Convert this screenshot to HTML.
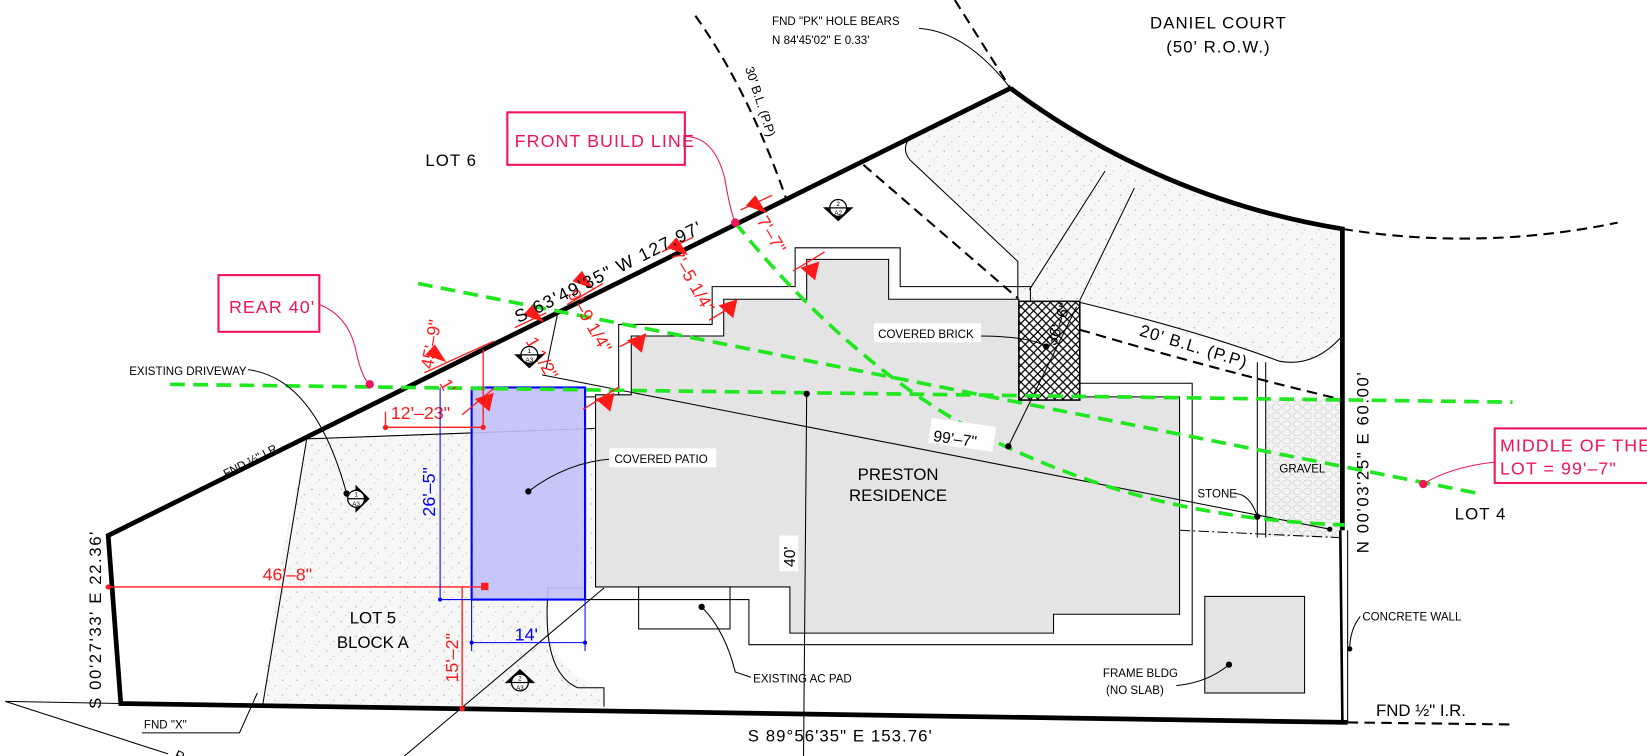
<!DOCTYPE html>
<html><head><meta charset="utf-8"><style>
html,body{margin:0;padding:0;background:#fff;}
svg{display:block}
text{font-family:"Liberation Sans Narrow","Liberation Sans",sans-serif;}
</style></head><body>
<svg width="1647" height="756" viewBox="0 0 1568 720" preserveAspectRatio="none" xmlns="http://www.w3.org/2000/svg">
<defs>
<pattern id="st" width="14" height="14" patternUnits="userSpaceOnUse">
<rect width="14" height="14" fill="#f7f7f7"/>
<circle cx="3" cy="4" r="0.8" fill="#bbb"/><circle cx="10" cy="9" r="0.7" fill="#c4c4c4"/><circle cx="7" cy="12" r="0.6" fill="#ccc"/>
</pattern>
<pattern id="hx" width="8" height="8" patternUnits="userSpaceOnUse">
<rect width="8" height="8" fill="#fff"/><path d="M0,0L8,8M8,0L0,8" stroke="#000" stroke-width="1.2"/>
</pattern>
<pattern id="gv" width="10" height="8" patternUnits="userSpaceOnUse">
<rect width="10" height="8" fill="#f4f4f4"/><ellipse cx="5" cy="4" rx="4" ry="3" fill="none" stroke="#ccc" stroke-width="0.7"/>
</pattern>
</defs>

<!-- stippled areas -->
<path d="M962,84 A719,719 0 0 0 1278,218 L1278,322 Q1276,345 1218,344 L1028,288 L969,286 L969,249 L866,152 Q860,138 866,131 Z" fill="url(#st)"/>
<path d="M292,418 L568,408 L568,560 L522,560 Q515,640 575,655 L575,673 L250,672 Q262,560 270,520 Z" fill="url(#st)"/>
<rect x="1205" y="380" width="71" height="131" fill="url(#gv)"/>

<!-- driveway outlines -->
<g fill="none" stroke="#000" stroke-width="1">
<path d="M866,131 Q858,142 866,152 L969,249 L969,286"/>
<path d="M1052,163 L980,276 M1080,179 L1028,286"/>
<path d="M1028,288 Q1140,315 1218,344 Q1250,350 1276,322"/>
<path d="M292,418 L568,408"/>
<path d="M292,418 Q268,560 250,672"/>
<path d="M557,560 L522,560 Q515,640 550,655 L575,655 L575,673"/>
<path d="M1197,345 L1197,512 M1205,345 L1205,512"/>
</g>
<path d="M1123,505 L1275,512" stroke="#000" stroke-width="1" stroke-dasharray="10,3,2,3" fill="none"/>

<!-- house outer outline -->
<path d="M557,378 L589,378 L589,309 L678,309 L678,273 L757,273 L757,236 L857,236 L857,273 L981,273 L981,287 M1028,365 L1135,365 L1135,614 L713,614 L713,571 L557,571" fill="none" stroke="#000" stroke-width="1"/>
<!-- house gray -->
<path d="M567,559 L567,376 L601,376 L601,320 L689,320 L689,285 L768,285 L768,247 L846,247 L846,285 L970,285 L970,378 L1123,378 L1123,585 L1003,585 L1003,603 L752,603 L752,559 Z" fill="#e4e4e4" stroke="#000" stroke-width="1"/>
<!-- brick hatch -->
<rect x="970" y="287" width="58" height="94" fill="url(#hx)" stroke="#000" stroke-width="1.5"/>
<!-- AC pad -->
<rect x="608" y="559" width="87" height="40" fill="none" stroke="#000" stroke-width="1"/>
<!-- frame bldg -->
<rect x="1147" y="568" width="95" height="92" fill="#e4e4e4" stroke="#000" stroke-width="1"/>
<!-- patio -->
<rect x="449" y="369" width="108" height="202" fill="#c0c0f8" fill-opacity="0.9" stroke="#0000ff" stroke-width="2"/>

<!-- thin lines -->
<g stroke="#000" stroke-width="1" fill="none">
<path d="M516,357 L1266,504"/>
<path d="M531,298 L520,351"/>
<path d="M768,375 L765,720"/>
<path d="M575,560 L385,720"/>
<path d="M5,668 L115,670 M5,668 L160,718"/>
<path d="M960,425 L1025,292"/>
<path d="M1283,688 L1283,505"/>
</g>

<!-- dashed black -->
<g stroke="#000" stroke-width="2" fill="none" stroke-dasharray="10,6">
<path d="M662,15 Q712,85 748,188"/>
<path d="M909,0 L962,84"/>
<path d="M822,157 L969,284"/>
<path d="M1028,314 Q1150,350 1275,380"/>
<path d="M1278,218 A719,719 0 0 0 1540,212"/>
<path d="M1283,688 L1440,690"/>
</g>

<!-- property boundary -->
<g stroke="#000" stroke-width="4.5" fill="none" stroke-linejoin="miter">
<path d="M962,84 L103,510 L115,670 L1283,688"/>
<path d="M962,84 A719,719 0 0 0 1278,218 L1278,505"/>
<path d="M1276,505 L1278,688" stroke-width="2.5"/>
</g>

<!-- green dashed -->
<g stroke="#22e622" stroke-width="3.5" fill="none" stroke-dasharray="14,8">
<path d="M162,366 L1440,383"/>
<path d="M398,270 L1408,470"/>
<path d="M700,212 C770,300 860,380 957,425 S1150,495 1280,500"/>
</g>

<!-- red callouts -->
<g fill="none" stroke="#f0145a" stroke-width="2">
<rect x="483" y="107" width="169" height="50"/>
<rect x="208" y="262" width="96" height="54"/>
<rect x="1423" y="408" width="150" height="52"/>
</g>
<g fill="none" stroke="#f0145a" stroke-width="1">
<path d="M652,130 Q680,130 690,170 Q695,200 700,212"/>
<path d="M304,290 Q330,300 338,330 Q344,360 352,366"/>
<path d="M1423,440 Q1380,445 1355,461"/>
</g>
<g fill="#f0145a"><circle cx="700" cy="212" r="4"/><circle cx="352" cy="366" r="4"/><circle cx="1355" cy="461" r="4"/></g>
<g fill="#f0145a" font-size="17">
<text x="490" y="140" letter-spacing="1">FRONT BUILD LINE</text>
<text x="218" y="298" letter-spacing="1">REAR 40'</text>
<text x="1428" y="430" letter-spacing="1">MIDDLE OF THE</text>
<text x="1428" y="452" letter-spacing="1">LOT = 99'–7"</text>
</g>

<!-- red dimensions -->
<g stroke="#ff2020" stroke-width="1.3" fill="none">
<path d="M367,392 L367,407 L460,407 L460,333"/>
<path d="M103,559 L462,559"/>
<path d="M440,559 L440,675"/>
<path d="M404,355 L470,325"/>
<path d="M490,312 L520,298 M540,290 L574,270 M630,240 L660,226 M705,200 L735,186"/>
<path d="M555,390 L590,368 M590,330 L615,318 M675,305 L700,290 M755,258 L785,240 M440,395 L470,370"/>
</g>
<g fill="#ff1a1a">
<circle cx="367" cy="407" r="2.5"/><circle cx="460" cy="407" r="2.5"/><circle cx="103" cy="559" r="2.5"/><rect x="458" y="555" width="7" height="7"/><circle cx="440" cy="675" r="2.5"/>
<polygon points="405,338 425,345 414,328"/>
<polygon points="498,300 518,307 507,290"/>
<polygon points="545,268 565,275 554,258"/>
<polygon points="635,236 655,243 644,226"/>
<polygon points="710,196 730,203 719,186"/>
<polygon points="452,380 466,392 470,374"/>
<polygon points="567,380 581,392 585,374"/>
<polygon points="597,324 611,336 615,318"/>
<polygon points="684,291 698,303 702,285"/>
<polygon points="762,255 776,267 780,249"/>
</g>
<g fill="#ff1a1a" font-size="17">
<text x="372" y="399">12'–23"</text>
<text x="250" y="553">46'–8"</text>
<text transform="translate(436,650) rotate(-90)">15'–2"</text>
<text transform="translate(412,352) rotate(-80)">45'–9"</text>
<text transform="translate(720,210) rotate(60)">7'–7"</text>
<text transform="translate(638,242) rotate(60)">7'–5 1/4"</text>
<text transform="translate(540,280) rotate(60)">9'–9 1/4"</text>
<text transform="translate(500,325) rotate(60)">1 1/2"</text>
<text transform="translate(418,365) rotate(60)">1'</text>
</g>

<!-- blue dims -->
<g stroke="#0000ff" stroke-width="1" fill="none">
<path d="M419,369 L419,571 L449,571"/>
<path d="M449,571 L449,620 M557,571 L557,620 M449,612 L557,612"/>
</g>
<g fill="#0000ff"><circle cx="449" cy="612" r="2"/><circle cx="557" cy="612" r="2"/><circle cx="419" cy="571" r="2"/></g>
<text transform="translate(414,492) rotate(-90)" fill="#0000ff" font-size="17">26'–5"</text>
<text x="490" y="610" fill="#0000ff" font-size="17">14'</text>

<!-- section markers -->
<g stroke="#000" stroke-width="1.2">
<g transform="translate(504,338)"><polygon points="-13,0 13,0 0,12" fill="#000"/><circle r="8" fill="#fff"/><path d="M-8,0 L8,0"/></g>
<g transform="translate(798,198)"><polygon points="-13,0 13,0 0,12" fill="#000"/><circle r="8" fill="#fff"/><path d="M-8,0 L8,0"/></g>
<g transform="translate(339,475)"><polygon points="0,-12 12,0 0,12" fill="#000"/><circle r="8" fill="#fff"/><path d="M-8,0 L8,0"/></g>
<g transform="translate(495,650)"><polygon points="-13,0 13,0 0,-12" fill="#000"/><circle r="8" fill="#fff"/><path d="M-8,0 L8,0"/></g>
</g>
<g font-size="6" text-anchor="middle" font-family="Liberation Sans">
<text x="798" y="205">A2</text><text x="504" y="345">A3</text><text x="339" y="482">A3</text><text x="495" y="657">A3</text>
<text x="798" y="196">2</text><text x="504" y="336">1</text><text x="339" y="473">1</text><text x="495" y="648">2</text>
</g>

<!-- leaders -->
<g stroke="#000" stroke-width="1" fill="none">
<path d="M875,27 Q920,30 962,84"/>
<path d="M236,352 Q300,360 330,470"/>
<path d="M583,437 Q540,440 503,468"/>
<path d="M930,320 Q980,320 996,330"/>
<path d="M1175,470 Q1190,470 1197,492"/>
<path d="M1295,587 Q1285,600 1285,618"/>
<path d="M1120,653 Q1150,650 1170,633"/>
<path d="M668,578 Q690,600 700,640 L715,645"/>
<path d="M135,698 L228,698 L245,660"/>
</g>
<g fill="#000"><circle cx="330" cy="470" r="3"/><circle cx="503" cy="468" r="3"/><circle cx="996" cy="330" r="3"/><circle cx="1197" cy="492" r="3"/><circle cx="1285" cy="618" r="2.5"/><circle cx="1170" cy="633" r="3"/><circle cx="668" cy="578" r="3"/><circle cx="768" cy="375" r="3"/><circle cx="960" cy="425" r="3"/><circle cx="1266" cy="504" r="2.5"/></g>

<!-- white label backgrounds -->
<g fill="#fff"><rect x="580" y="427" width="102" height="18"/><rect x="832" y="308" width="102" height="18"/><rect x="742" y="510" width="18" height="34"/><rect x="885" y="402" width="62" height="24" transform="rotate(8 915 414)"/></g>

<!-- black labels -->
<g fill="#000" font-size="16">
<text x="1160" y="27" text-anchor="middle" letter-spacing="1">DANIEL COURT</text>
<text x="1160" y="50" text-anchor="middle" letter-spacing="1">(50' R.O.W.)</text>
<text x="405" y="158" letter-spacing="1">LOT 6</text>
<text x="355" y="594" text-anchor="middle">LOT 5</text>
<text x="355" y="617" text-anchor="middle">BLOCK A</text>
<text x="855" y="457" text-anchor="middle">PRESTON</text>
<text x="855" y="477" text-anchor="middle">RESIDENCE</text>
<text x="1385" y="495" letter-spacing="1">LOT 4</text>
<text x="800" y="706" text-anchor="middle" letter-spacing="1">S 89°56'35" E 153.76'</text>
<text x="1310" y="682">FND ½" I.R.</text>
<text transform="translate(582,264) rotate(-26.4)" text-anchor="middle" font-size="17" letter-spacing="1.5">S 63'49'35"  W 127.97'</text>
<text transform="translate(96,590) rotate(-90)" text-anchor="middle" letter-spacing="1.5">S 00'27'33'  E 22.36'</text>
<text transform="translate(1303,440) rotate(-90)" text-anchor="middle" letter-spacing="1.5">N 00'03'25"  E 60.00'</text>
<text transform="translate(1135,335) rotate(17)" text-anchor="middle" letter-spacing="1">20' B.L. (P.P)</text>
<text transform="translate(720,98) rotate(72)" text-anchor="middle" font-size="12">30' B.L. (P.P)</text>
<text transform="translate(757,540) rotate(-90)" font-size="15">40'</text>
<text transform="translate(888,420) rotate(8)" font-size="15">99'–7"</text>
<text transform="translate(1005,330) rotate(-70)" font-size="15">36'–6"</text>
<text transform="translate(215,455) rotate(-27)" font-size="11">FND ½" I.R.</text>
<text transform="translate(165,722) rotate(25)" font-size="13">P</text>
</g>
<g fill="#000" font-size="11">
<text x="735" y="24">FND "PK" HOLE BEARS</text>
<text x="735" y="42">N 84'45'02" E 0.33'</text>
<text x="123" y="357">EXISTING DRIVEWAY</text>
<text x="585" y="441">COVERED PATIO</text>
<text x="836" y="322">COVERED BRICK</text>
<text x="1140" y="474">STONE</text>
<text x="1218" y="450">GRAVEL</text>
<text x="1297" y="591">CONCRETE WALL</text>
<text x="1050" y="645">FRAME BLDG</text>
<text x="1053" y="661">(NO SLAB)</text>
<text x="717" y="650">EXISTING AC PAD</text>
<text x="137" y="694">FND "X"</text>
</g>
</svg>
</body></html>
